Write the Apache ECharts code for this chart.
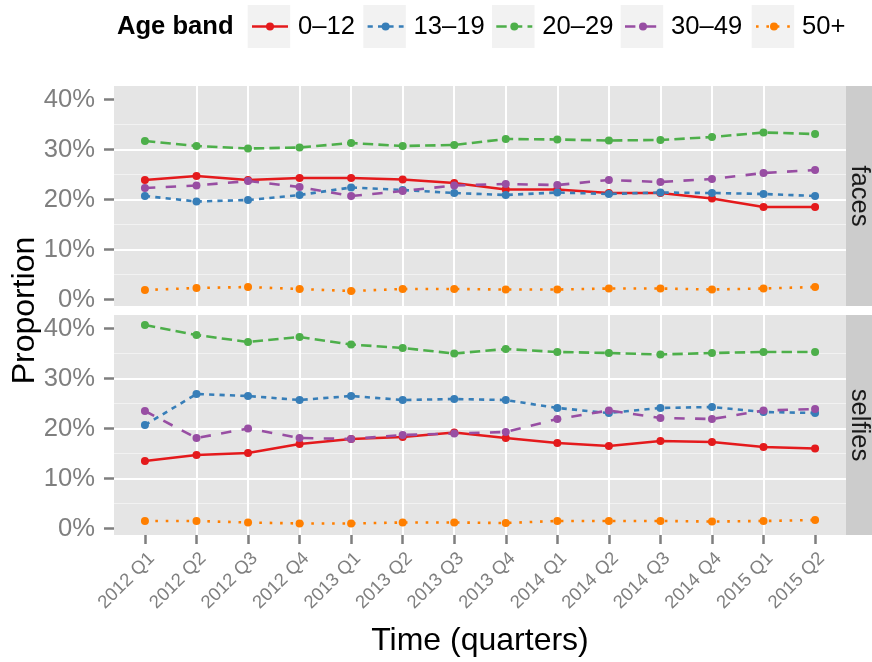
<!DOCTYPE html>
<html>
<head>
<meta charset="utf-8">
<script src="https://cdn.jsdelivr.net/npm/echarts@6/dist/echarts.min.js"></script>
<style>
  html, body { margin: 0; padding: 0; background: #ffffff; }
  #chart { width: 872px; height: 662px; }
</style>
</head>
<body>
<div id="chart"></div>
<script>
// Quarters on the x axis, age bands, facet panels
const quarters = ['2012 Q1', '2012 Q2', '2012 Q3', '2012 Q4',
                  '2013 Q1', '2013 Q2', '2013 Q3', '2013 Q4',
                  '2014 Q1', '2014 Q2', '2014 Q3', '2014 Q4',
                  '2015 Q1', '2015 Q2'];
const bands = ['0–12', '13–19', '20–29', '30–49', '50+'];
const facets = ['faces', 'selfies'];
const yTicks = [0, 10, 20, 30, 40];

// Share of each age band per quarter (%), "faces" panel
const faces_0_12   = [23.9, 24.7, 23.9, 24.3, 24.3, 24.0, 23.3, 22.0, 22.0, 21.3, 21.3, 20.2, 18.5, 18.5];
const faces_13_19  = [20.7, 19.6, 19.9, 20.9, 22.4, 21.9, 21.3, 20.9, 21.4, 21.1, 21.4, 21.3, 21.1, 20.7];
const faces_20_29  = [31.7, 30.7, 30.2, 30.4, 31.3, 30.7, 30.9, 32.1, 32.0, 31.8, 31.9, 32.5, 33.4, 33.1];
const faces_30_49  = [22.3, 22.8, 23.7, 22.5, 20.7, 21.7, 22.8, 23.1, 22.9, 23.9, 23.5, 24.1, 25.3, 25.9];
const faces_50plus = [1.9, 2.3, 2.5, 2.1, 1.7, 2.1, 2.1, 2.0, 2.0, 2.2, 2.2, 2.0, 2.2, 2.5];

// Share of each age band per quarter (%), "selfies" panel
const selfies_0_12   = [13.5, 14.7, 15.1, 16.9, 17.9, 18.3, 19.2, 18.1, 17.1, 16.5, 17.5, 17.3, 16.3, 16.0];
const selfies_13_19  = [20.7, 26.9, 26.5, 25.7, 26.5, 25.7, 25.9, 25.7, 24.1, 23.1, 24.1, 24.3, 23.3, 23.1];
const selfies_20_29  = [40.7, 38.7, 37.3, 38.3, 36.8, 36.1, 35.0, 35.9, 35.3, 35.1, 34.8, 35.1, 35.3, 35.3];
const selfies_30_49  = [23.5, 18.1, 20.0, 18.1, 17.9, 18.7, 19.0, 19.3, 21.9, 23.6, 22.1, 21.9, 23.6, 23.9];
const selfies_50plus = [1.5, 1.5, 1.2, 1.0, 1.0, 1.2, 1.2, 1.1, 1.5, 1.5, 1.5, 1.4, 1.5, 1.7];

const panelValues = [
  [faces_0_12, faces_13_19, faces_20_29, faces_30_49, faces_50plus],
  [selfies_0_12, selfies_13_19, selfies_20_29, selfies_30_49, selfies_50plus]
];

// Line appearance per band (Set1 colours, ggplot-style dash patterns)
const LW = 2.6;
const bandStyles = [
  { color: '#E41A1C', dash: 'solid' },
  { color: '#377EB8', dash: [2 * LW, 2 * LW] },
  { color: '#4DAF4A', dash: [4 * LW, 2 * LW] },
  { color: '#984EA3', dash: [4 * LW, 4 * LW] },
  { color: '#FF7F00', dash: [1 * LW, 3 * LW] }
];

// Layout
const FONT = "'Liberation Sans', Arial, Helvetica, sans-serif";
const panelLeft = 114, panelRight = 846, chartW = 872;
const panelTops = [86, 315], panelH = 220;
const yMin = -1.3, yMax = 42.7;
const keyBoxLeft = [247.7, 363.3, 492, 620.7, 751.7];
const keyBoxTop = 5, keyBoxW = 42.5, keyBoxH = 43;
const tickGray = '#7F7F7F';

const chart = echarts.init(document.getElementById('chart'));

const grids = panelTops.map(top => ({
  left: panelLeft, right: chartW - panelRight, top: top, height: panelH,
  show: true, backgroundColor: '#E5E5E5', borderWidth: 0
}));

const quarterIdx = quarters.map((_, i) => i);

const xAxes = panelTops.map((_, g) => {
  const isBottom = g === panelTops.length - 1;
  return {
    type: 'value', gridIndex: g,
    min: -0.6, max: quarters.length - 0.4,
    minInterval: 1, maxInterval: 1,
    axisLine: { show: false, onZero: false },
    axisTick: {
      show: isBottom, customValues: quarterIdx, length: 9,
      lineStyle: { color: tickGray, width: 2.5 }
    },
    axisLabel: {
      show: isBottom, customValues: quarterIdx, rotate: 45, margin: 14,
      align: 'right', verticalAlign: 'top',
      fontFamily: FONT, fontSize: 18.5, color: tickGray,
      formatter: v => (Number.isInteger(v) && quarters[v]) ? quarters[v] : ''
    },
    splitLine: { show: true, showMinLine: false, showMaxLine: false,
                 lineStyle: { color: '#FFFFFF', width: 2 } },
    name: isBottom ? 'Time (quarters)' : '',
    nameLocation: 'middle', nameGap: 90,
    nameTextStyle: { fontFamily: FONT, fontSize: 32, color: '#000000' }
  };
});

const yAxes = panelTops.map((_, g) => ({
  type: 'value', gridIndex: g, min: yMin, max: yMax,
  minInterval: 10, maxInterval: 10,
  axisLine: { show: false, onZero: false },
  axisTick: { show: true, customValues: yTicks, length: 10,
              lineStyle: { color: tickGray, width: 2.5 } },
  axisLabel: {
    show: true, customValues: yTicks, margin: 19,
    fontFamily: FONT, fontSize: 25.6, color: tickGray,
    formatter: v => (yTicks.indexOf(v) >= 0 ? v + '%' : '')
  },
  splitLine: { show: true, showMinLine: false, showMaxLine: false,
               lineStyle: { color: '#FFFFFF', width: 2 } },
  minorTick: { show: false, splitNumber: 2 },
  minorSplitLine: { show: true, lineStyle: { color: '#F2F2F2', width: 1.2 } }
}));

const series = [];
panelValues.forEach((groups, g) => {
  groups.forEach((vals, k) => {
    const st = bandStyles[k];
    series.push({
      type: 'line', name: bands[k], xAxisIndex: g, yAxisIndex: g,
      data: vals.map((v, i) => [i, v]),
      symbol: 'circle', symbolSize: 8, showSymbol: true,
      lineStyle: { color: st.color, width: LW, type: st.dash, cap: 'butt' },
      itemStyle: { color: st.color },
      emphasis: { disabled: true },
      clip: false
    });
  });
});

// One legend per band so each key sits in its own shaded box
const legends = bands.map((b, k) => ({
  data: [b], left: keyBoxLeft[k] + 3, top: 13.5, padding: 0,
  orient: 'horizontal', itemWidth: 36, itemHeight: 10, itemGap: 0,
  selectedMode: false, z: 5,
  lineStyle: { width: LW },
  textStyle: { fontFamily: FONT, fontSize: 25.6, color: '#000000', padding: [0, 0, 0, 5] }
}));

const graphics = [];
keyBoxLeft.forEach(x => graphics.push({
  type: 'rect', left: x, top: keyBoxTop, z: 0,
  shape: { width: keyBoxW, height: keyBoxH }, style: { fill: '#F2F2F2' }
}));
facets.forEach((f, g) => {
  graphics.push({
    type: 'rect', x: panelRight, y: panelTops[g], z: 0,
    shape: { width: chartW - panelRight, height: panelH }, style: { fill: '#CCCCCC' }
  });
  graphics.push({
    type: 'text', x: (panelRight + chartW) / 2, y: panelTops[g] + panelH / 2,
    rotation: -Math.PI / 2, z: 1,
    style: { text: f, font: '25.6px ' + FONT, fill: '#1A1A1A',
             textAlign: 'center', textVerticalAlign: 'middle' }
  });
});
graphics.push({
  type: 'text', x: 25, y: (panelTops[0] + panelTops[1] + panelH) / 2,
  rotation: Math.PI / 2, z: 1,
  style: { text: 'Proportion', font: '32px ' + FONT, fill: '#000000',
           textAlign: 'center', textVerticalAlign: 'middle' }
});

chart.setOption({
  animation: false,
  textStyle: { fontFamily: FONT },
  title: {
    text: 'Age band', left: 117, top: 14, padding: 0,
    textStyle: { fontFamily: FONT, fontSize: 25.6, fontWeight: 'bold', color: '#000000' }
  },
  legend: legends,
  grid: grids,
  xAxis: xAxes,
  yAxis: yAxes,
  series: series,
  graphic: graphics
});
</script>
</body>
</html>
